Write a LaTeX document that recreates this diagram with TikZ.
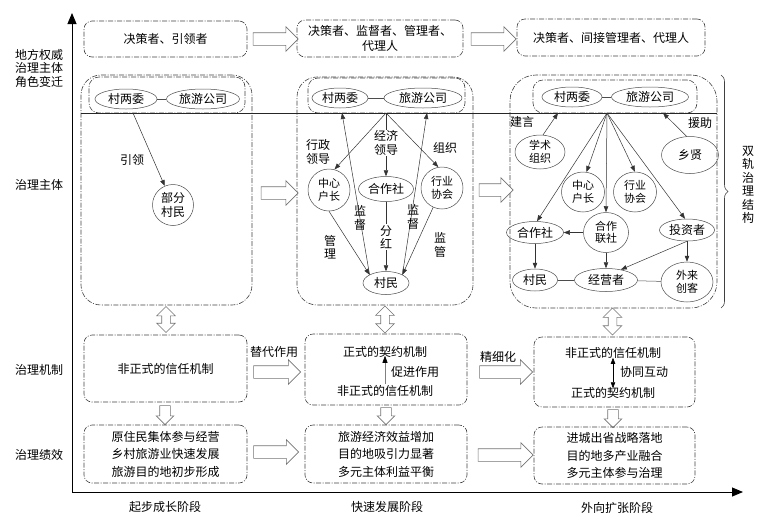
\documentclass[tikz,border=0pt]{standalone}
\usepackage{fontspec}
\setmainfont{Noto Sans CJK SC}
\usetikzlibrary{arrows.meta,shapes.geometric,shapes.arrows,decorations.pathreplacing}

\begin{document}
\begin{tikzpicture}[x=1pt,y=-1pt]
    \pgfmathsetmacro{\width}{766}
    \pgfmathsetmacro{\height}{528}
    \tikzset{every node/.style={font=\fontsize{12}{13.5}\selectfont}}
    \tikzset{
      dashbox/.style={draw=black!75,line width=0.6pt,dash pattern=on 5pt off 1.5pt on 1pt off 1.5pt,rounded corners=8pt,align=center,inner sep=2pt},
      actor/.style 2 args={ellipse,draw=black!70,line width=0.5pt,inner sep=0pt,align=center,minimum width=#1,minimum height=#2},
      twoline/.style={font=\fontsize{11}{12.5}\selectfont},
      lbl/.style={align=center,inner sep=1pt},
      linkarrow/.style={draw=black!80,line width=0.5pt,-{Triangle[length=6pt,width=4.5pt]}},
      tieline/.style={draw=black!70,line width=0.5pt},
      hollowarrow/.style={single arrow,draw=black!55,fill=white,line width=0.6pt,inner xsep=0pt,inner ysep=6pt,single arrow head extend=6pt,minimum height=#1},
      hollowdown/.style={single arrow,draw=black!55,fill=white,line width=0.6pt,inner xsep=0pt,inner ysep=5pt,single arrow head extend=3.5pt,minimum height=#1,rotate=-90},
      hollowboth/.style={double arrow,draw=black!55,fill=white,line width=0.6pt,inner xsep=0pt,inner ysep=4pt,double arrow head extend=5pt,minimum height=#1,rotate=90},
      axisline/.style={line width=0.9pt,-{Triangle[length=11pt,width=9pt]}}
    }
    \useasboundingbox (0,0) rectangle (\width,\height);

    \node[lbl] (rowRole) at (39,68) {地方权威\\治理主体\\角色变迁};
    \node[lbl] (rowActor) at (39,185) {治理主体};
    \node[lbl] (rowMech) at (39,370) {治理机制};
    \node[lbl] (rowPerf) at (39,455) {治理绩效};

    \coordinate (origin) at (72,492);
    \coordinate (ytop) at (72,13);
    \coordinate (xend) at (743,492);
    \draw[axisline] (origin) -- (ytop);
    \draw[axisline] (origin) -- (xend);
    \node[lbl] (stageA) at (165,507) {起步成长阶段};
    \node[lbl] (stageB) at (387,507) {快速发展阶段};
    \node[lbl] (stageC) at (617,508) {外向扩张阶段};

    \node[dashbox,minimum width=163pt,minimum height=36pt] (roleA) at (165.5,39) {决策者、引领者};
    \node[dashbox,minimum width=166pt,minimum height=37pt,font=\fontsize{12}{15}\selectfont] (roleB) at (380,38.5) {决策者、监督者、管理者、\\代理人};
    \node[dashbox,minimum width=188pt,minimum height=37pt] (roleC) at (611,37.5) {决策者、间接管理者、代理人};
    \node[hollowarrow=45pt] (roleAB) at (272.5,39) {};
    \node[hollowarrow=45pt] (roleBC) at (490.5,39) {};

    \node[dashbox,rounded corners=20pt,minimum width=171pt,minimum height=230pt] (actorsA) at (166.5,190) {};
    \node[dashbox,rounded corners=20pt,minimum width=176pt,minimum height=228pt] (actorsB) at (385,191) {};
    \node[dashbox,rounded corners=26pt,minimum width=207pt,minimum height=233pt] (actorsC) at (613.5,191.5) {};
    \node[dashbox,rounded corners=10pt,minimum width=156pt,minimum height=36pt] (leadA) at (167,95) {};
    \node[dashbox,rounded corners=10pt,minimum width=157pt,minimum height=35pt] (leadB) at (386.5,95.5) {};
    \node[dashbox,rounded corners=10pt,minimum width=164pt,minimum height=33pt] (leadC) at (615,96.5) {};
    \coordinate (splitL) at (81,113);
    \coordinate (splitR) at (717,113);
    \draw[draw=black!85,line width=0.6pt] (splitL) -- (splitR);
    \node[hollowarrow=37pt] (actorsAB) at (276.5,193) {};
    \node[hollowarrow=34pt] (actorsBC) at (493,190) {};

    \node[actor={62pt}{20pt}] (vwcA) at (126,99) {村两委};
    \node[actor={73pt}{20pt}] (tcoA) at (203,99) {旅游公司};
    \draw[tieline] (vwcA) -- (tcoA);
    \coordinate (hubA) at (133,113);
    \node[actor={41pt}{41pt}] (pvA) at (173,205) {部分\\村民};
    \draw[linkarrow] (hubA) -- (pvA);
    \node[lbl] (leadLblA) at (132,160) {引领};

    \node[actor={56pt}{20pt}] (vwcB) at (340,98) {村两委};
    \node[actor={78pt}{20pt}] (tcoB) at (423,98) {旅游公司};
    \draw[tieline] (vwcB) -- (tcoB);
    \coordinate (hubB) at (386,113);
    \coordinate (hookB1) at (342,113);
    \coordinate (hookB2) at (427,113);
    \node[actor={42pt}{42pt},twoline] (chB) at (329,190) {中心\\户长};
    \node[actor={55pt}{25pt}] (coopB) at (386,189) {合作社};
    \node[actor={42pt}{42pt},twoline] (iaB) at (442,188) {行业\\协会};
    \node[actor={46pt}{23pt}] (vilB) at (386,283) {村民};
    \draw[linkarrow] (hubB) -- (chB.75);
    \draw[linkarrow] (hubB) -- (coopB);
    \draw[linkarrow] (hubB) -- (iaB.100);
    \draw[linkarrow] (chB.south) -- (vilB.north west);
    \draw[linkarrow] (coopB) -- (vilB);
    \draw[linkarrow] (iaB) -- (vilB.north east);
    \draw[linkarrow] (vilB.north west) -- (hookB1);
    \draw[linkarrow] (vilB.north east) -- (hookB2);
    \node[lbl] (adminB) at (318,152) {行政\\领导};
    \node[lbl,fill=white] (econB) at (386,143) {经济\\领导};
    \node[lbl] (orgB) at (445,148) {组织};
    \node[lbl] (supB1) at (360,218) {监\\督};
    \node[lbl] (supB2) at (413,217) {监\\督};
    \node[lbl] (mgmtB) at (330,247) {管\\理};
    \node[lbl,fill=white] (divB) at (386,237) {分\\红};
    \node[lbl] (regB) at (440,245) {监\\管};

    \node[actor={60pt}{20pt}] (vwcC) at (572,97) {村两委};
    \node[actor={77pt}{20pt}] (tcoC) at (650,97) {旅游公司};
    \draw[tieline] (vwcC) -- (tcoC);
    \coordinate (hubC) at (607,113);
    \coordinate (hookC1) at (558,113);
    \coordinate (hookC2) at (663,113);
    \node[actor={50pt}{34pt},twoline] (acadC) at (540,152) {学术\\组织};
    \node[actor={57pt}{37pt}] (sageC) at (690,155) {乡贤};
    \node[actor={43pt}{40pt},twoline] (chC) at (583,192) {中心\\户长};
    \node[actor={43pt}{40pt},twoline] (iaC) at (635,192) {行业\\协会};
    \node[actor={57pt}{22pt}] (coopC) at (535,232.5) {合作社};
    \node[actor={45pt}{40pt},twoline] (fedC) at (606,232.5) {合作\\联社};
    \node[actor={55pt}{22pt}] (invC) at (687,230) {投资者};
    \node[actor={45pt}{22pt}] (vilC) at (535,280) {村民};
    \node[actor={63pt}{23pt}] (opC) at (606,280) {经营者};
    \node[actor={52pt}{40pt},twoline] (makerC) at (687,282) {外来\\创客};
    \draw[linkarrow] (hubC) -- (chC.80);
    \draw[linkarrow] (hubC) -- (fedC.north);
    \draw[linkarrow] (hubC) -- (iaC.north);
    \draw[linkarrow] (hubC) -- (coopC.80);
    \draw[linkarrow] (hubC) -- (invC.100);
    \draw[linkarrow] (acadC.80) -- (hookC1);
    \draw[linkarrow] (sageC.100) -- (hookC2);
    \draw[linkarrow] (fedC.west) -- (coopC.east);
    \draw[linkarrow] (coopC) -- (vilC);
    \draw[linkarrow] (fedC) -- (opC);
    \draw[linkarrow] (invC.south) -- (opC.35);
    \draw[linkarrow] (invC) -- (makerC);
    \draw[tieline] (vilC) -- (opC);
    \draw[tieline] (opC) -- (makerC);
    \node[lbl] (adviseC) at (522,122) {建言};
    \node[lbl] (aidC) at (700,123) {援助};

    \coordinate (braceTop) at (721,75);
    \coordinate (braceBot) at (721,308);
    \draw[draw=black!75,line width=0.6pt,decorate,decoration={brace,amplitude=7pt}] (braceTop) -- (braceBot);
    \node[lbl] (dualC) at (748,185) {双\\轨\\治\\理\\结\\构};

    \node[hollowboth=26pt] (linkA) at (166,319.5) {};
    \node[hollowboth=27pt] (linkB) at (385,319.5) {};
    \node[hollowboth=27pt] (linkC) at (612.5,321.5) {};

    \node[dashbox,minimum width=163pt,minimum height=67pt] (mechA) at (165.5,368.5) {非正式的信任机制};
    \node[dashbox,minimum width=162pt,minimum height=71pt] (mechB) at (386,369.5) {};
    \node[dashbox,minimum width=161pt,minimum height=70pt] (mechC) at (614.5,372) {};
    \node[lbl] (formalB) at (385,352) {正式的契约机制};
    \node[lbl] (informalB) at (385,391) {非正式的信任机制};
    \draw[draw=black!50,line width=0.6pt,-{Triangle[length=7pt,width=5pt,black]},shorten >=-3pt] (informalB.north) -- (formalB.south);
    \node[lbl] (promoteB) at (415,372) {促进作用};
    \node[lbl] (informalC) at (613,353) {非正式的信任机制};
    \node[lbl] (formalC) at (613,393) {正式的契约机制};
    \draw[line width=0.6pt,{Triangle[length=6pt,width=4.5pt]}-{Triangle[length=6pt,width=4.5pt]},shorten <=-2pt,shorten >=-2pt] (informalC.south) -- (formalC.north);
    \node[lbl] (synergyC) at (644,372) {协同互动};
    \node[hollowarrow=47pt] (mechAB) at (274,372) {};
    \node[lbl] (substAB) at (274,352) {替代作用};
    \node[hollowarrow=53pt] (mechBC) at (503,372) {};
    \node[lbl] (refineBC) at (498,357) {精细化};

    \node[hollowdown=19pt] (dropA) at (165,412.5) {};
    \node[hollowdown=17pt] (dropB) at (386,413.5) {};
    \node[hollowdown=18pt] (dropC) at (613,416) {};

    \node[dashbox,minimum width=163pt,minimum height=58pt,font=\fontsize{12}{17.5}\selectfont] (perfA) at (165.5,454) {原住民集体参与经营\\乡村旅游业快速发展\\旅游目的地初步形成};
    \node[dashbox,minimum width=162pt,minimum height=58pt,font=\fontsize{12}{17.5}\selectfont] (perfB) at (386,454) {旅游经济效益增加\\目的地吸引力显著\\多元主体利益平衡};
    \node[dashbox,minimum width=161pt,minimum height=57pt,font=\fontsize{12}{17.5}\selectfont] (perfC) at (614.5,455.5) {进城出省战略落地\\目的地多产业融合\\多元主体参与治理};
    \node[hollowarrow=45pt] (perfAB) at (273,452) {};
    \node[hollowarrow=55pt] (perfBC) at (502.5,455) {};

\end{tikzpicture}
\end{document}
